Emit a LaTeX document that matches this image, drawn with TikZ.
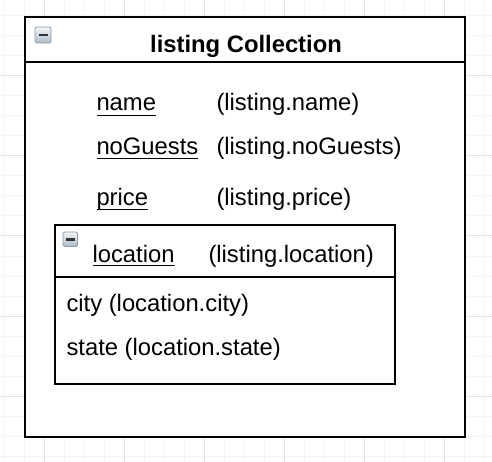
\documentclass[tikz,border=0pt]{standalone}
\usepackage{fontspec}
\setmainfont{Liberation Sans}
\definecolor{iconTop}{HTML}{F2F5F8}
\definecolor{iconBot}{HTML}{AEBBC8}
\definecolor{iconRim}{HTML}{8C9BAA}
\definecolor{gridMinor}{HTML}{F4F4F4}
\definecolor{gridMajor}{HTML}{E2E2E2}
\begin{document}
\begin{tikzpicture}[x=1pt,y=-1pt,
  txt/.style={inner sep=0pt,outer sep=0pt,anchor=base west,font=\fontsize{23.8}{28}\selectfont},
  ttl/.style={inner sep=0pt,outer sep=0pt,anchor=base,font=\fontsize{23.8}{28}\selectfont\bfseries},
  boxline/.style={draw=black,line width=2.4pt},
  uline/.style={line width=1.8pt},
  icon/.style={draw=iconRim,line width=0.8pt,rounded corners=1.5pt,top color=iconTop,bottom color=iconBot},
  minus/.style={line width=2.6pt,draw=black!80}]
\useasboundingbox (0,0) rectangle (492,462);
\fill[white] (0,0) rectangle (492,462);
% grid
\foreach \i in {4,24,...,484} \draw[gridMinor,line width=1pt] (\i,0) -- (\i,462);
\foreach \i in {16,36,...,456} \draw[gridMinor,line width=1pt] (0,\i) -- (492,\i);
\foreach \i in {44,124,...,444} \draw[gridMajor,line width=1pt] (\i,0) -- (\i,462);
\foreach \i in {76,156,...,396} \draw[gridMajor,line width=1pt] (0,\i) -- (492,\i);
% outer box
\fill[white] (25,17) rectangle (465,437);
\draw[boxline] (25,17) rectangle (465,437);
\draw[boxline] (25,62) -- (465,62);
\draw[icon] (35,27) rectangle (51,43);
\draw[minus] (38.5,35) -- (47.5,35);
\node[ttl] (title) at (246,53) {listing Collection};
% attributes
\node[txt] (name) at (96.5,111) {name};
\node[txt] (namev) at (216.5,111) {(listing.name)};
\node[txt] (guests) at (96.5,155) {noGuests};
\node[txt] (guestsv) at (216.5,155) {(listing.noGuests)};
\node[txt] (price) at (96.5,206) {price};
\node[txt] (pricev) at (216.5,206) {(listing.price)};
\draw[uline] ([yshift=-4.5pt]name.base west) -- ([yshift=-4.5pt]name.base east);
\draw[uline] ([yshift=-3.5pt]guests.base west) -- ([yshift=-3.5pt]guests.base east);
\draw[uline] ([yshift=-3.5pt]price.base west) -- ([yshift=-3.5pt]price.base east);
% inner box
\draw[boxline] (55,225) rectangle (395,384);
\draw[boxline] (55,277) -- (395,277);
\draw[icon] (63,232) rectangle (77.5,246.5);
\draw[minus] (66,239.5) -- (74.5,239.5);
\node[txt] (loc) at (92.5,262) {location};
\node[txt] (locv) at (208.5,262) {(listing.location)};
\draw[uline] ([yshift=-3.5pt]loc.base west) -- ([yshift=-3.5pt]loc.base east);
\node[txt] (city) at (66.5,311.5) {city (location.city)};
\node[txt] (state) at (66.5,355) {state (location.state)};
\end{tikzpicture}
\end{document}
